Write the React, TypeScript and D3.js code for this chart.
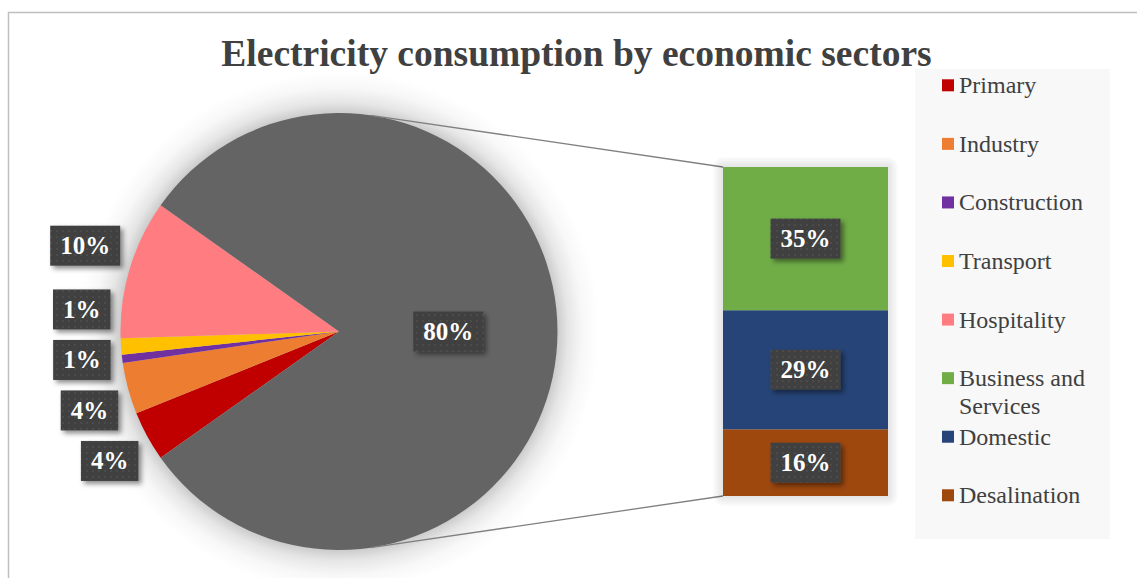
import React from "react";
import * as d3 from "d3";

// ---- data ----
const pieCategories = ["Primary", "Industry", "Construction", "Transport", "Hospitality"];
const pieValues = [3.7, 3.8, 0.6, 1.2, 10.3];
const barCategories = ["Business and Services", "Domestic", "Desalination"];
const barValues = [35.0, 29.1, 16.3];
const legendOrder = [
  "Primary",
  "Industry",
  "Construction",
  "Transport",
  "Hospitality",
  "Business and Services",
  "Domestic",
  "Desalination",
];
const colors: Record<string, string> = {
  Primary: "#C00000",
  Industry: "#ED7D31",
  Construction: "#7030A0",
  Transport: "#FFC000",
  Hospitality: "#FF7C80",
  "Business and Services": "#70AD47",
  Domestic: "#264478",
  Desalination: "#9E480E",
  Other: "#646464",
};
const titleText = "Electricity consumption by economic sectors";

const W = 1137;
const H = 578;
const FONT = "'Times New Roman', 'Liberation Serif', serif";
const TXT = "#404040";

export default function App() {
  const cx = 339;
  const cy = 331.5;
  const r = 218.5;
  const shadowR = r + 42;

  const otherSum = d3.sum(barValues);
  const smallSum = d3.sum(pieValues);
  const total = otherSum + smallSum;
  const smallSpan = (smallSum / total) * 2 * Math.PI;
  const start = (3 * Math.PI) / 2 - smallSpan / 2;

  const pieData = [
    ...pieCategories.map((c, i) => ({ name: c, value: pieValues[i] })),
    { name: "Other", value: otherSum },
  ];
  const arcs = d3
    .pie<{ name: string; value: number }>()
    .sort(null)
    .value((d) => d.value)
    .startAngle(start)
    .endAngle(start + 2 * Math.PI)(pieData);
  const arcGen = d3.arc<d3.PieArcDatum<{ name: string; value: number }>>().innerRadius(0).outerRadius(r);

  // bar
  const barX = 723;
  const barW = 165;
  const barTop = 167;
  const barBottom = 496;
  const y = d3.scaleLinear().domain([0, otherSum]).range([barBottom, barTop]);
  const segs: { name: string; value: number; y0: number; y1: number }[] = [];
  let acc = 0;
  for (let i = barValues.length - 1; i >= 0; i--) {
    segs.push({ name: barCategories[i], value: barValues[i], y0: acc, y1: acc + barValues[i] });
    acc += barValues[i];
  }

  // connector tangent points
  const tangent = (px: number, py: number, sign: number) => {
    const dx = px - cx;
    const dy = py - cy;
    const d = Math.hypot(dx, dy);
    const base = Math.atan2(dy, dx);
    const a = base + sign * Math.acos(r / d);
    return [cx + r * Math.cos(a), cy + r * Math.sin(a)];
  };
  const tTop = tangent(barX, barTop, -1);
  const tBot = tangent(barX, barBottom, 1);

  // label sizing
  const fs = 25;
  const boxH = 40;
  const boxW = (t: string) => (t.replace("%", "").length * 0.5 + 1) * fs + 20;
  const fmt = (v: number) => `${Math.round(v)}%`;

  // outside labels on pie
  const D = r + 10;
  const smallArcs = arcs.filter((a) => a.data.name !== "Other");
  const labs = smallArcs.map((a) => {
    const mid = (a.startAngle + a.endAngle) / 2;
    const py = cy - D * Math.cos(mid);
    const text = fmt(a.data.value);
    const yc = py < cy ? py - boxH / 2 : py + boxH / 2;
    return { text, w: boxW(text), yc };
  });
  // resolve overlaps, from bottom upward
  const sorted = [...labs].sort((a, b) => b.yc - a.yc);
  const minGap = 50.5;
  for (let i = 1; i < sorted.length; i++) {
    if (sorted[i].yc > sorted[i - 1].yc - minGap) sorted[i].yc = sorted[i - 1].yc - minGap;
  }
  const placed = labs.map((l) => {
    const top = l.yc - boxH / 2;
    const bottom = l.yc + boxH / 2;
    let dy = 0;
    if (bottom < cy) dy = bottom - cy;
    else if (top > cy) dy = top - cy;
    const right = cx - Math.sqrt(D * D - dy * dy);
    return { ...l, x: right - l.w / 2 };
  });

  const otherArc = arcs.find((a) => a.data.name === "Other")!;
  const innerLab = d3.arc<any>().innerRadius(0).outerRadius(r).centroid(otherArc);

  const Label = ({ x, yc, text }: { x: number; yc: number; text: string }) => {
    const w = boxW(text);
    return (
      <g>
        <rect x={x - w / 2} y={yc - boxH / 2} width={w} height={boxH} fill="url(#dots)" filter="url(#lblShadow)" />
        <text x={x} y={yc + 8.5} textAnchor="middle" fontFamily={FONT} fontWeight="bold" fontSize={fs} fill="#fff">
          {text}
        </text>
      </g>
    );
  };

  // legend
  const legX = 915;
  const legY = 69;
  const legW = 195;
  const legH = 470;
  const legStep = 58.57;
  const legFirst = 93.3;

  const k = r / shadowR;
  const barGlow = [10, 8, 6, 4, 2];

  return (
    <svg width={W} height={H} style={{ position: "absolute", left: 0, top: 0, display: "block" }}>
      <defs>
        <pattern id="dots" width="6" height="6" patternUnits="userSpaceOnUse">
          <rect width="6" height="6" fill="#404040" />
          <rect x="2" y="2" width="2" height="2" fill="#4c4c4c" />
        </pattern>
        <radialGradient id="pieGlow" cx="0.5" cy="0.5" r="0.5">
          <stop offset={k} stopColor="#000" stopOpacity={0.2} />
          <stop offset={k + (1 - k) * 0.25} stopColor="#000" stopOpacity={0.1} />
          <stop offset={k + (1 - k) * 0.6} stopColor="#000" stopOpacity={0.03} />
          <stop offset={1} stopColor="#000" stopOpacity={0} />
        </radialGradient>
        <filter id="lblShadow" x="-30%" y="-30%" width="160%" height="170%">
          <feDropShadow dx="3" dy="3" stdDeviation="2.5" floodColor="#000" floodOpacity="0.45" />
        </filter>
      </defs>
      <rect x={0} y={0} width={W} height={H} fill="#fff" />
      <rect x={8.5} y={12.5} width={W + 20} height={H + 20} fill="#fff" stroke="#bfbfbf" strokeWidth={1.5} />

      {/* legend background */}
      <rect x={legX} y={legY} width={legW} height={legH} fill="#f8f8f8" />

      {/* pie */}
      <circle cx={cx} cy={cy} r={shadowR} fill="url(#pieGlow)" />
      <g transform={`translate(${cx},${cy})`}>
        {arcs.map((a) => (
          <path key={a.data.name} d={arcGen(a) as string} fill={colors[a.data.name]} />
        ))}
      </g>

      {/* connectors */}
      <line x1={tTop[0]} y1={tTop[1]} x2={barX} y2={barTop} stroke="#808080" strokeWidth={1.3} />
      <line x1={tBot[0]} y1={tBot[1]} x2={barX} y2={barBottom} stroke="#808080" strokeWidth={1.3} />

      {/* bar */}
      {barGlow.map((g) => (
        <rect
          key={g}
          x={barX - g}
          y={barTop - g}
          width={barW + 2 * g}
          height={barBottom - barTop + 2 * g}
          rx={g}
          fill="#000"
          opacity={0.018}
        />
      ))}
      {segs.map((s) => (
        <rect key={s.name} x={barX} y={y(s.y1)} width={barW} height={y(s.y0) - y(s.y1)} fill={colors[s.name]} />
      ))}

      {/* labels */}
      {placed.map((p, i) => (
        <Label key={i} x={p.x} yc={p.yc} text={p.text} />
      ))}
      <Label x={cx + innerLab[0]} yc={cy + innerLab[1]} text={fmt(otherSum)} />
      {segs.map((s) => (
        <Label key={s.name} x={barX + barW / 2} yc={(y(s.y0) + y(s.y1)) / 2} text={fmt(s.value)} />
      ))}

      {/* legend */}
      {legendOrder.map((name, i) => {
        const base = legFirst + i * legStep;
        const words = name === "Business and Services" ? ["Business and", "Services"] : [name];
        return (
          <g key={name}>
            <rect x={942} y={base - 14} width={12} height={12} fill={colors[name]} />
            <text x={959} y={base} fontFamily={FONT} fontSize={24} fill={TXT}>
              {words.map((w, j) => (
                <tspan key={j} x={959} dy={j === 0 ? 0 : 28}>
                  {w}
                </tspan>
              ))}
            </text>
          </g>
        );
      })}

      {/* title */}
      <text x={576.5} y={66} textAnchor="middle" fontFamily={FONT} fontWeight="bold" fontSize={37.5} fill={TXT}>
        {titleText}
      </text>
    </svg>
  );
}
